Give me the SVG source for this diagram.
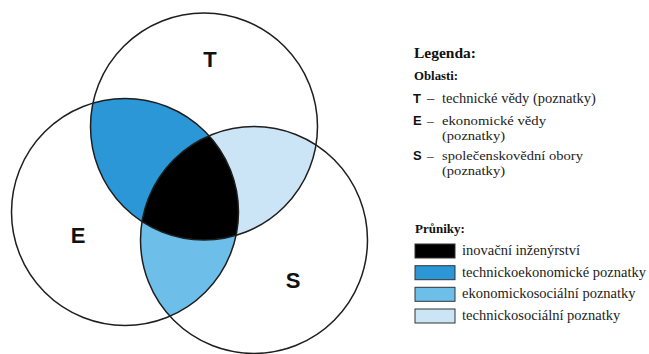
<svg xmlns="http://www.w3.org/2000/svg" width="649" height="354" viewBox="0 0 649 354">
<style>
.ring{fill:none;stroke:#1e1e1e;stroke-width:1.5}
.big{font-family:"Liberation Sans",Arial,sans-serif;font-weight:bold;font-size:22px;fill:#111;text-anchor:middle}
.serif{font-family:"Liberation Serif","Times New Roman",serif;font-size:14.5px;fill:#222}
.serif2{font-family:"Liberation Serif","Times New Roman",serif;font-size:13.5px;fill:#222}
.head{font-family:"Liberation Serif","Times New Roman",serif;font-weight:bold;fill:#111}
.key{font-family:"Liberation Sans",Arial,sans-serif;font-weight:bold;font-size:13px;fill:#111}
.sw{stroke:#333;stroke-width:1}
</style>
<defs>
<clipPath id="cT"><circle cx="204" cy="126.5" r="113.5"/></clipPath>
<clipPath id="cE"><circle cx="125" cy="212" r="113.5"/></clipPath>
</defs>
<rect width="649" height="354" fill="#fff"/>
<g id="regions">
<g clip-path="url(#cT)"><circle cx="125" cy="212" r="113.5" fill="#2b97d6"/></g>
<g clip-path="url(#cT)"><circle cx="254" cy="240" r="113.5" fill="#cce5f6"/></g>
<g clip-path="url(#cE)"><circle cx="254" cy="240" r="113.5" fill="#6dbfea"/></g>
<g clip-path="url(#cT)"><circle cx="254" cy="240" r="113.5" fill="#000" clip-path="url(#cE)"/></g>
</g>
<g id="node-T">
<circle class="ring" cx="204" cy="126.5" r="113.5"/>
<text class="big" x="210" y="67">T</text>
</g>
<g id="node-E">
<circle class="ring" cx="125" cy="212" r="113.5"/>
<text class="big" x="78" y="243">E</text>
</g>
<g id="node-S">
<circle class="ring" cx="254" cy="240" r="113.5"/>
<text class="big" x="293" y="288">S</text>
</g>
<g id="legend">
<text class="head" x="414" y="58" font-size="15.5">Legenda:</text>
<text class="head" x="414" y="80" font-size="12.8">Oblasti:</text>
<text class="key" x="413" y="103">T</text>
<text class="serif" x="427" y="103">&#8211;</text>
<text class="serif" x="442" y="103">technick&#233; v&#283;dy (poznatky)</text>
<text class="key" x="413" y="124.5">E</text>
<text class="serif2" x="427" y="124.5">&#8211;</text>
<text class="serif2" x="442" y="124.5" textLength="104" lengthAdjust="spacingAndGlyphs">ekonomick&#233; v&#283;dy</text>
<text class="serif2" x="442" y="139.5" textLength="63" lengthAdjust="spacingAndGlyphs">(poznatky)</text>
<text class="key" x="413" y="159.5">S</text>
<text class="serif2" x="427" y="159.5">&#8211;</text>
<text class="serif2" x="442" y="159.5" textLength="141" lengthAdjust="spacingAndGlyphs">spole&#269;enskov&#283;dn&#237; obory</text>
<text class="serif2" x="442" y="174.5" textLength="63" lengthAdjust="spacingAndGlyphs">(poznatky)</text>
<text class="head" x="415" y="233" font-size="13">Pr&#367;niky:</text>
<rect class="sw" x="415" y="244" width="40" height="14" fill="#000"/>
<text class="serif" x="462" y="255">inova&#269;n&#237; in&#382;en&#253;rstv&#237;</text>
<rect class="sw" x="415" y="265.7" width="40" height="14" fill="#2b97d6"/>
<text class="serif" x="462" y="276.7">technickoekonomick&#233; poznatky</text>
<rect class="sw" x="415" y="287.3" width="40" height="14" fill="#6dbfea"/>
<text class="serif" x="462" y="298.3">ekonomickosoci&#225;ln&#237; poznatky</text>
<rect class="sw" x="415" y="309" width="40" height="14" fill="#cce5f6"/>
<text class="serif" x="462" y="320">technickosoci&#225;ln&#237; poznatky</text>
</g>
</svg>
